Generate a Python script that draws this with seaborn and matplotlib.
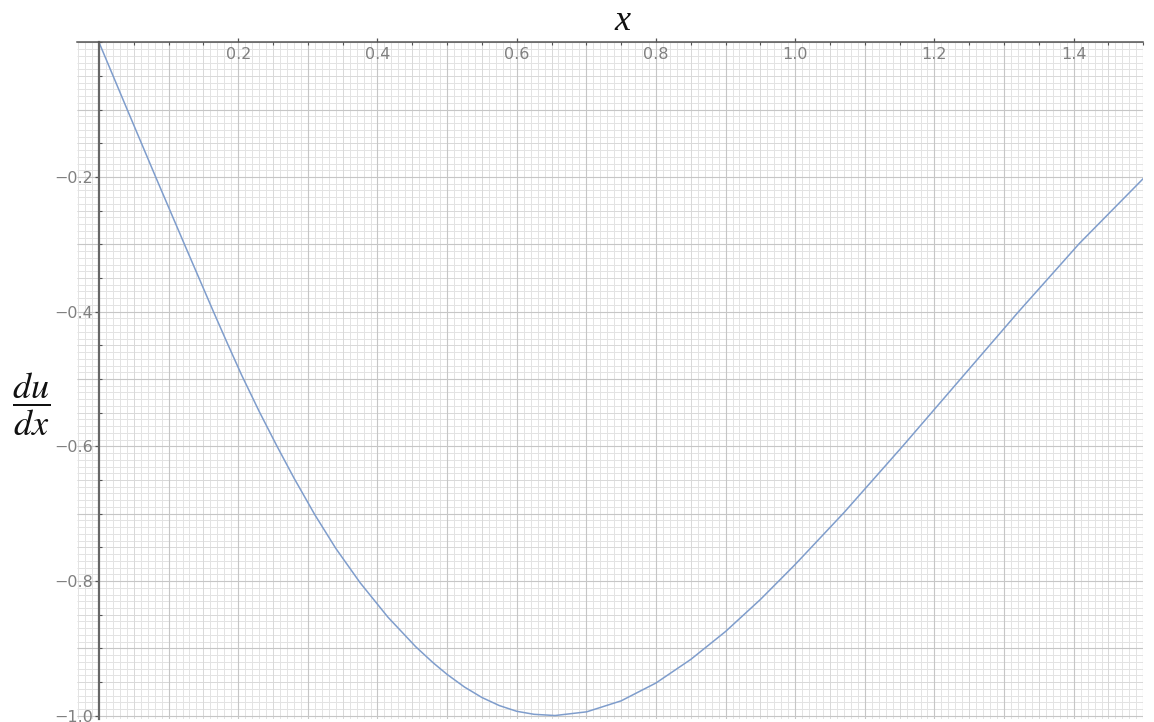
import numpy as np
import pandas as pd
import matplotlib
matplotlib.use("Agg")
import matplotlib.pyplot as plt
from matplotlib.ticker import MultipleLocator, FixedLocator
import seaborn as sns

# values
x_vals = [0.0, 0.0406, 0.0811, 0.123, 0.1647, 0.185, 0.205, 0.23, 0.255, 0.28,
          0.31, 0.34, 0.375, 0.415, 0.455, 0.48, 0.5, 0.525, 0.55, 0.575,
          0.6, 0.625, 0.655, 0.7005, 0.75, 0.8, 0.85, 0.9, 0.95, 1.0,
          1.0705, 1.154, 1.237, 1.32, 1.408, 1.5]
dudx_vals = [0.0, -0.1, -0.1992, -0.3006, -0.4007, -0.4484, -0.4944, -0.5479, -0.5984, -0.6469,
             -0.7015, -0.7513, -0.8024, -0.8536, -0.8976, -0.9214, -0.9386, -0.9574, -0.9729, -0.9849,
             -0.9934, -0.9979, -0.9997, -0.9942, -0.9779, -0.9514, -0.9164, -0.8749, -0.8274, -0.7754,
             -0.6979, -0.6002, -0.5006, -0.401, -0.2989, -0.2023]
x_tick_labels = ["0.2", "0.4", "0.6", "0.8", "1.0", "1.2", "1.4"]
y_tick_labels = ["\u22120.2", "\u22120.4", "\u22120.6", "\u22120.8", "\u22121.0"]

df = pd.DataFrame({"x": x_vals, "dudx": dudx_vals})

sns.set_theme(style="white")
plt.rcParams["font.family"] = ["DejaVu Sans"]
plt.rcParams["mathtext.fontset"] = "stix"

W, H = 1154, 722
fig = plt.figure(figsize=(W / 100, H / 100), dpi=100)
x0, x1 = -0.031, 1.5
y0, y1 = -1.005, 0.0
ax = fig.add_axes([77.4 / W, 1 - 719.1 / H, (1143.3 - 77.4) / W, (719.1 - 42.3) / H])
ax.set_xlim(x0, x1)
ax.set_ylim(y0, y1)
ax.set_facecolor("white")

# graph-paper grid
fine_x = np.arange(-0.03, 1.5001, 0.01)
fine_y = np.arange(-1.0, 0.0001, 0.01)
ax.vlines(fine_x, y0, y1, colors="#e3e3e3", linewidth=0.7, zorder=0)
ax.hlines(fine_y, x0, x1, colors="#e3e3e3", linewidth=0.7, zorder=0)
mid_x = np.arange(0.05, 1.5001, 0.1)
mid_y = np.arange(-0.95, 0.0001, 0.1)
ax.vlines(mid_x, y0, y1, colors="#d9d9d9", linewidth=0.7, zorder=0)
ax.hlines(mid_y, x0, x1, colors="#d9d9d9", linewidth=0.7, zorder=0)
maj_x = np.arange(0.1, 1.5001, 0.1)
maj_y = np.arange(-1.0, 0.0001, 0.1)
ax.vlines(maj_x, y0, y1, colors="#c6c6c6", linewidth=0.8, zorder=0)
ax.hlines(maj_y, x0, x1, colors="#c6c6c6", linewidth=0.8, zorder=0)

sns.lineplot(data=df, x="x", y="dudx", ax=ax, color="#7f9dcc", linewidth=1.1,
             sort=False, zorder=3)

# axes crossing at the origin
for s in ["right", "bottom"]:
    ax.spines[s].set_visible(False)
ax.spines["left"].set_position(("data", 0))
ax.spines["top"].set_position(("data", 0))
ax.spines["left"].set_color("#666666")
ax.spines["top"].set_color("#555555")
ax.spines["left"].set_linewidth(1.6)
ax.spines["top"].set_linewidth(1.1)
ax.spines["left"].set_zorder(4)
ax.spines["top"].set_zorder(4)

ax.xaxis.tick_top()
ax.xaxis.set_major_locator(FixedLocator([0.2, 0.4, 0.6, 0.8, 1.0, 1.2, 1.4]))
ax.set_xticklabels(x_tick_labels)
ax.xaxis.set_minor_locator(MultipleLocator(0.05))
ax.yaxis.set_major_locator(FixedLocator([-0.2, -0.4, -0.6, -0.8, -1.0]))
ax.set_yticklabels(y_tick_labels)
ax.yaxis.set_minor_locator(MultipleLocator(0.05))

ax.tick_params(axis="x", which="major", top=True, bottom=False, labeltop=True,
               labelbottom=False, direction="out", length=3, width=0.9,
               color="#555555", pad=-17, labelsize=11.5, labelcolor="#808080")
ax.tick_params(axis="x", which="minor", top=True, bottom=False, direction="in",
               length=2.5, width=0.8, color="#555555")
ax.tick_params(axis="y", which="major", left=True, direction="out", length=3,
               width=0.9, color="#555555", pad=1, labelsize=11.5, labelcolor="#808080")
ax.tick_params(axis="y", which="minor", left=True, direction="in", length=2.5,
               width=0.8, color="#555555")
ax.set_xlabel("")
ax.set_ylabel("")

# axis labels
fig.text(622 / W, 1 - 21 / H, "x", fontsize=26, fontstyle="italic",
         family=["Liberation Serif", "DejaVu Serif"], ha="center", va="center",
         color="#111111")
fig.text(31 / W, 1 - 404 / H, r"$\dfrac{du}{dx}$", fontsize=26, ha="center",
         va="center", color="#111111")

fig.savefig("out.png", dpi=100)
